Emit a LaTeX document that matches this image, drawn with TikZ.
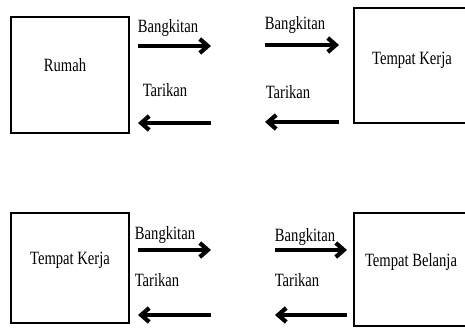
\documentclass[tikz,border=0pt]{standalone}
\usepackage{fontspec}
\setmainfont{Liberation Serif}[FakeStretch=0.78]
\usetikzlibrary{arrows.meta, positioning}

\begin{document}
\begin{tikzpicture}[font=\fontsize{16}{19}\selectfont]
        \tikzstyle{box} = [rectangle, draw=black, line width=2.4pt, minimum width=3.54cm, minimum height=3.48cm]
        \tikzstyle{boxtext} = [inner sep=0pt]
        \tikzstyle{flow} = [-{Straight Barb[length=2.4mm, width=4.2mm]}, line width=3.6pt, black]
        \tikzstyle{flowlabel} = [inner sep=0pt]

        \path[use as bounding box, clip] (0,0) rectangle (13.95,9.81);

        % zones
        \node[box] (rumah) at (2.10,7.56) {};
        \node[box, minimum width=3.63cm, minimum height=3.45cm] (kerjaA) at (12.435,7.845) {};
        \node[box, minimum height=3.30cm] (kerjaB) at (2.10,1.77) {};
        \node[box, minimum width=3.63cm, minimum height=3.39cm] (belanja) at (12.435,1.725) {};

        \node[boxtext] (rumahtxt) at (1.95,7.86) {Rumah};
        \node[boxtext] (kerjaAtxt) at (12.36,8.01) {Tempat Kerja};
        \node[boxtext] (kerjaBtxt) at (2.10,2.01) {Tempat Kerja};
        \node[boxtext] (belanjatxt) at (12.33,1.95) {Tempat Belanja};

        % arrow ends
        \coordinate (tlA) at (4.14,8.43);  \coordinate (tlB) at (6.33,8.43);
        \coordinate (tlC) at (6.33,6.12);  \coordinate (tlD) at (4.14,6.12);
        \coordinate (trA) at (7.95,8.46);  \coordinate (trB) at (10.17,8.46);
        \coordinate (trC) at (10.17,6.15); \coordinate (trD) at (7.95,6.15);
        \coordinate (blA) at (4.14,2.31);  \coordinate (blB) at (6.33,2.31);
        \coordinate (blC) at (6.33,0.36);  \coordinate (blD) at (4.14,0.36);
        \coordinate (brA) at (8.25,2.31);  \coordinate (brB) at (10.41,2.31);
        \coordinate (brC) at (10.41,0.36); \coordinate (brD) at (8.25,0.36);

        \draw[flow] (tlA) -- (tlB);
        \draw[flow] (tlC) -- (tlD);
        \draw[flow] (trA) -- (trB);
        \draw[flow] (trC) -- (trD);
        \draw[flow] (blA) -- (blB);
        \draw[flow] (blC) -- (blD);
        \draw[flow] (brA) -- (brB);
        \draw[flow] (brC) -- (brD);

        \node[flowlabel] (tlbang) at (5.04,8.97) {Bangkitan};
        \node[flowlabel] (tltar) at (4.95,7.11) {Tarikan};
        \node[flowlabel] (trbang) at (8.85,9.06) {Bangkitan};
        \node[flowlabel] (trtar) at (8.64,7.05) {Tarikan};
        \node[flowlabel] (blbang) at (4.95,2.76) {Bangkitan};
        \node[flowlabel] (bltar) at (4.71,1.41) {Tarikan};
        \node[flowlabel] (brbang) at (9.15,2.70) {Bangkitan};
        \node[flowlabel] (brtar) at (8.91,1.41) {Tarikan};
    \end{tikzpicture}
\end{document}
